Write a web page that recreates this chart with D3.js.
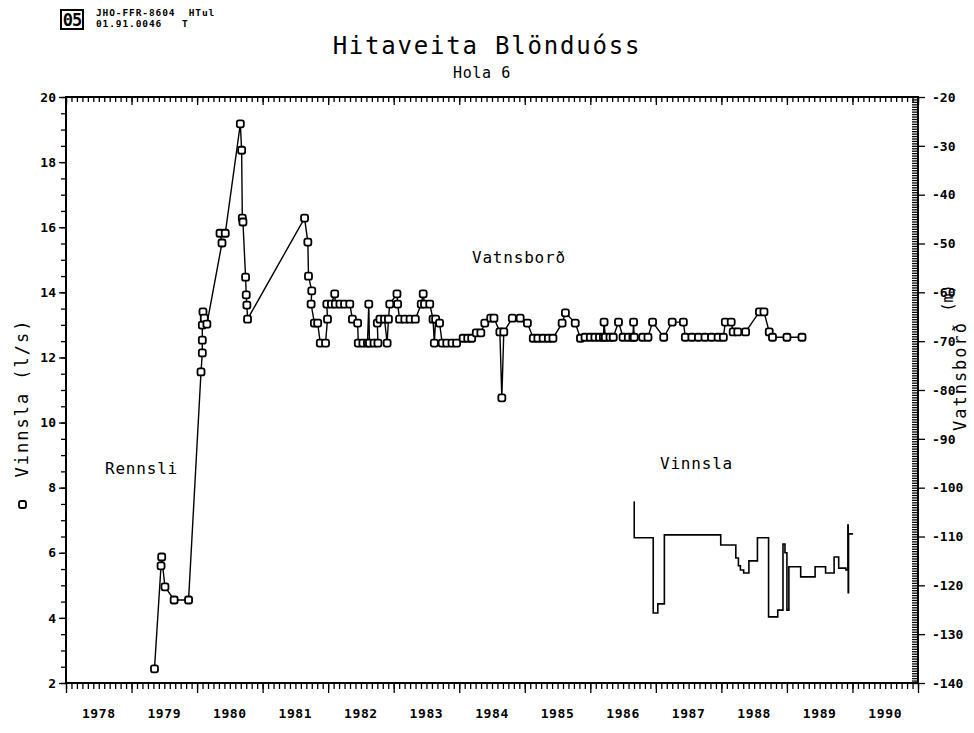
<!DOCTYPE html>
<html>
<head>
<meta charset="utf-8">
<script src="https://cdn.jsdelivr.net/npm/d3@7"></script>
<style>
  body { margin: 0; background: #fff; }
  text { font-family: "DejaVu Sans Mono", monospace; fill: #000; }
</style>
</head>
<body>
<div id="chart"></div>
<script>
/* Hitaveita Blönduóss, hola 6 */

// tick labels
const yearLabels = [1978, 1979, 1980, 1981, 1982, 1983, 1984, 1985, 1986, 1987, 1988, 1989, 1990];
const leftTicks = [2, 4, 6, 8, 10, 12, 14, 16, 18, 20];
const rightTicks = [-20, -30, -40, -50, -60, -70, -80, -90, -100, -110, -120, -130, -140];

// Vatnsborð (m), markers
const levelYears = [1979.35, 1979.45, 1979.46, 1979.51, 1979.65, 1979.87, 1980.06, 1980.08, 1980.08, 1980.08,
  1980.09, 1980.11, 1980.15, 1980.38, 1980.35, 1980.43, 1980.66, 1980.68, 1980.69, 1980.70,
  1980.74, 1980.75, 1980.76, 1980.77, 1981.64, 1981.69, 1981.70, 1981.75, 1981.74, 1981.79,
  1981.84, 1981.88, 1981.96, 1981.99, 1981.98, 1982.05, 1982.10, 1982.11, 1982.18, 1982.25,
  1982.33, 1982.37, 1982.45, 1982.46, 1982.53, 1982.60, 1982.62, 1982.63, 1982.70, 1982.76,
  1982.75, 1982.79, 1982.86, 1982.90, 1982.92, 1982.94, 1983.05, 1983.06, 1983.09, 1983.17,
  1983.25, 1983.33, 1983.42, 1983.45, 1983.47, 1983.55, 1983.60, 1983.62, 1983.64, 1983.70,
  1983.74, 1983.81, 1983.89, 1983.96, 1984.06, 1984.13, 1984.19, 1984.26, 1984.33, 1984.39,
  1984.48, 1984.53, 1984.62, 1984.65, 1984.68, 1984.81, 1984.93, 1985.04, 1985.13, 1985.20,
  1985.28, 1985.36, 1985.43, 1985.57, 1985.62, 1985.77, 1985.85, 1985.92, 1986.00, 1986.07,
  1986.14, 1986.20, 1986.21, 1986.23, 1986.30, 1986.35, 1986.43, 1986.50, 1986.58, 1986.65,
  1986.66, 1986.67, 1986.80, 1986.88, 1986.95, 1987.12, 1987.25, 1987.42, 1987.45, 1987.55,
  1987.65, 1987.75, 1987.85, 1987.95, 1988.03, 1988.06, 1988.15, 1988.18, 1988.25, 1988.37,
  1988.58, 1988.65, 1988.73, 1988.78, 1989.00, 1989.23];
const levelValues = [-137.1, -116.0, -114.2, -120.3, -123.0, -123.0, -76.3, -72.4, -69.8, -66.7,
  -64.0, -65.3, -66.5, -49.9, -47.9, -47.9, -25.5, -30.9, -44.8, -45.6,
  -56.9, -60.5, -62.6, -65.5, -44.8, -49.7, -56.7, -59.7, -62.4, -66.3,
  -66.3, -70.4, -70.4, -65.5, -62.4, -62.4, -60.3, -62.4, -62.4, -62.4,
  -62.4, -65.5, -66.3, -70.4, -70.4, -70.4, -62.4, -70.4, -70.4, -70.4,
  -66.3, -65.5, -65.5, -70.4, -65.5, -62.4, -60.3, -62.4, -65.5, -65.5,
  -65.5, -65.5, -62.4, -60.3, -62.4, -62.4, -65.5, -70.4, -65.5, -66.3,
  -70.4, -70.4, -70.4, -70.4, -69.4, -69.4, -69.4, -68.3, -68.3, -66.3,
  -65.3, -65.3, -68.1, -81.6, -68.1, -65.3, -65.3, -66.3, -69.4, -69.4,
  -69.4, -69.4, -69.4, -66.3, -64.2, -66.3, -69.4, -69.2, -69.2, -69.2,
  -69.2, -69.2, -66.1, -69.2, -69.2, -69.2, -66.1, -69.2, -69.2, -69.2,
  -66.1, -69.2, -69.2, -69.2, -66.1, -69.2, -66.1, -66.1, -69.2, -69.2,
  -69.2, -69.2, -69.2, -69.2, -69.2, -66.1, -66.1, -68.1, -68.1, -68.1,
  -64.0, -64.0, -68.1, -69.2, -69.2, -69.2];

// Vinnsla (l/s), step line
const prodYears = [1986.66, 1986.67, 1986.96, 1987.03, 1987.13, 1987.99, 1988.22, 1988.26, 1988.29, 1988.34,
  1988.42, 1988.55, 1988.72, 1988.86, 1988.94, 1988.97, 1989.00, 1989.03, 1989.21, 1989.43,
  1989.59, 1989.72, 1989.79, 1989.90, 1989.93, 1989.935, 1989.94, 1990.01];
const prodValues = [7.56, 6.46, 4.15, 4.43, 6.55, 6.24, 5.84, 5.6, 5.47, 5.38,
  5.75, 6.46, 4.03, 4.24, 6.27, 6.00, 4.24, 5.57, 5.26, 5.57,
  5.38, 5.87, 5.53, 5.47, 6.85, 4.77, 6.58, 6.58];

const width = 974, height = 733,
      margin = ({ top: 97, right: 56, bottom: 50, left: 66 });

const svg = d3.select("#chart")
    .append("svg")
    .attr("width", width)
    .attr("height", height);

const x = d3.scaleLinear()
    .domain([1978, 1991])
    .range([margin.left, width - margin.right]);

const yL = d3.scaleLinear()
    .domain([2, 20])
    .range([height - margin.bottom, margin.top]);

const yR = d3.scaleLinear()
    .domain([-140, -20])
    .range([height - margin.bottom, margin.top]);

const months = d3.range(1978, 1991 + 1e-6, 1 / 12);

function clean(g) {
    g.select(".domain").remove();
    g.selectAll("line").attr("stroke", "#000").attr("stroke-width", 1.3);
}

// top axis, ticks inward
svg.append("g")
    .attr("transform", `translate(0,${margin.top})`)
    .call(d3.axisBottom(x).tickValues(months).tickSize(5).tickFormat(""))
    .call(clean);
svg.append("g")
    .attr("transform", `translate(0,${margin.top})`)
    .call(d3.axisBottom(x).tickValues(d3.range(1978, 1992)).tickSize(8).tickFormat(""))
    .call(clean);

// bottom axis, ticks hang below
svg.append("g")
    .attr("transform", `translate(0,${height - margin.bottom})`)
    .call(d3.axisBottom(x).tickValues(months).tickSize(6).tickFormat(""))
    .call(clean);
svg.append("g")
    .attr("transform", `translate(0,${height - margin.bottom})`)
    .call(d3.axisBottom(x).tickValues(d3.range(1978, 1992)).tickSize(10).tickFormat(""))
    .call(clean);

svg.append("g")
    .selectAll("text")
    .data(yearLabels)
    .join("text")
    .attr("x", d => x(d + 0.5))
    .attr("y", height - margin.bottom + 35)
    .attr("text-anchor", "middle")
    .attr("font-size", 13)
    .attr("font-weight", "bold")
    .attr("letter-spacing", 0.6)
    .text(d => d);

// left axis
svg.append("g")
    .attr("transform", `translate(${margin.left},0)`)
    .call(d3.axisLeft(yL).tickValues(d3.range(2, 20.01, 0.5)).tickSize(5).tickFormat(""))
    .call(clean);
svg.append("g")
    .attr("transform", `translate(${margin.left},0)`)
    .call(d3.axisLeft(yL).tickValues(leftTicks).tickSize(7).tickPadding(3).tickFormat(d3.format("d")))
    .call(clean)
    .call(g => g.selectAll("text")
        .attr("font-family", "DejaVu Sans Mono")
        .attr("font-size", 13)
        .attr("font-weight", "bold")
        .attr("fill", "#000"));

// right axis: dense inward comb, outward major ticks with labels
svg.append("g")
    .attr("transform", `translate(${width - margin.right},0)`)
    .call(d3.axisLeft(yR).tickValues(d3.range(-140, -19.99, 0.5)).tickSize(6).tickFormat(""))
    .call(clean);
svg.append("g")
    .attr("transform", `translate(${width - margin.right},0)`)
    .call(d3.axisRight(yR).tickValues(rightTicks).tickSize(7).tickPadding(7).tickFormat(d3.format("d")))
    .call(clean)
    .call(g => g.selectAll("text")
        .attr("font-family", "DejaVu Sans Mono")
        .attr("font-size", 13)
        .attr("font-weight", "bold")
        .attr("fill", "#000")
        .text(d => "-" + Math.abs(d)));

// frame
svg.append("rect")
    .attr("x", margin.left)
    .attr("y", margin.top)
    .attr("width", width - margin.left - margin.right)
    .attr("height", height - margin.top - margin.bottom)
    .attr("fill", "none")
    .attr("stroke", "#000")
    .attr("stroke-width", 2);

// Vinnsla step line
const prod = prodYears.map((d, i) => ({ t: d, v: prodValues[i] }));
svg.append("path")
    .datum(prod)
    .attr("fill", "none")
    .attr("stroke", "#000")
    .attr("stroke-width", 1.6)
    .attr("d", d3.line().curve(d3.curveStepAfter).x(d => x(d.t)).y(d => yL(d.v)));

// Vatnsborð line with markers
const level = levelYears.map((d, i) => ({ t: d, v: levelValues[i] }));
svg.append("path")
    .datum(level)
    .attr("fill", "none")
    .attr("stroke", "#000")
    .attr("stroke-width", 1.4)
    .attr("d", d3.line().x(d => x(d.t)).y(d => yR(d.v)));

svg.append("g")
    .selectAll("rect")
    .data(level)
    .join("rect")
    .attr("x", d => x(d.t) - 3.5)
    .attr("y", d => yR(d.v) - 3.5)
    .attr("width", 7)
    .attr("height", 7)
    .attr("rx", 2)
    .attr("fill", "#fff")
    .attr("stroke", "#000")
    .attr("stroke-width", 1.8);

// titles
svg.append("text")
    .attr("x", 487).attr("y", 54)
    .attr("text-anchor", "middle")
    .attr("font-size", 24)
    .attr("letter-spacing", 1.8)
    .text("Hitaveita Blönduóss");
svg.append("text")
    .attr("x", 482).attr("y", 78)
    .attr("text-anchor", "middle")
    .attr("font-size", 15)
    .attr("letter-spacing", 0.6)
    .text("Hola 6");

// header stamp
svg.append("rect")
    .attr("x", 61).attr("y", 10)
    .attr("width", 22).attr("height", 19)
    .attr("fill", "none")
    .attr("stroke", "#000")
    .attr("stroke-width", 2);
svg.append("text")
    .attr("x", 72).attr("y", 26)
    .attr("text-anchor", "middle")
    .attr("font-size", 17)
    .attr("font-weight", "bold")
    .attr("letter-spacing", -1)
    .text("05");
svg.append("text")
    .attr("x", 96).attr("y", 16)
    .attr("font-size", 9.5)
    .attr("font-weight", "bold")
    .attr("letter-spacing", 0.9)
    .attr("xml:space", "preserve")
    .text("JHO-FFR-8604  HTul");
svg.append("text")
    .attr("x", 96).attr("y", 27)
    .attr("font-size", 9.5)
    .attr("font-weight", "bold")
    .attr("letter-spacing", 0.9)
    .attr("xml:space", "preserve")
    .text("01.91.0046   T");

// axis titles
svg.append("text")
    .attr("transform", "translate(28,398) rotate(-90)")
    .attr("text-anchor", "middle")
    .attr("font-size", 17)
    .attr("letter-spacing", 2)
    .text("Vinnsla (l/s)");
svg.append("rect")
    .attr("x", 19).attr("y", 501)
    .attr("width", 7).attr("height", 7)
    .attr("rx", 2)
    .attr("fill", "#fff")
    .attr("stroke", "#000")
    .attr("stroke-width", 1.8);

svg.append("text")
    .attr("transform", "translate(966,376) rotate(-90)")
    .attr("text-anchor", "middle")
    .attr("font-size", 17)
    .attr("letter-spacing", 2)
    .text("Vatnsborð");
svg.append("text")
    .attr("transform", "translate(953,298) rotate(-90)")
    .attr("text-anchor", "middle")
    .attr("font-size", 15)
    .text("(m)");

// series labels
const labels = [
    { text: "Rennsli", x: 105, y: 474 },
    { text: "Vatnsborð", x: 472, y: 263 },
    { text: "Vinnsla", x: 660, y: 469 }
];
svg.append("g")
    .selectAll("text")
    .data(labels)
    .join("text")
    .attr("x", d => d.x)
    .attr("y", d => d.y)
    .attr("font-size", 16)
    .attr("letter-spacing", 0.8)
    .text(d => d.text);
</script>
</body>
</html>
